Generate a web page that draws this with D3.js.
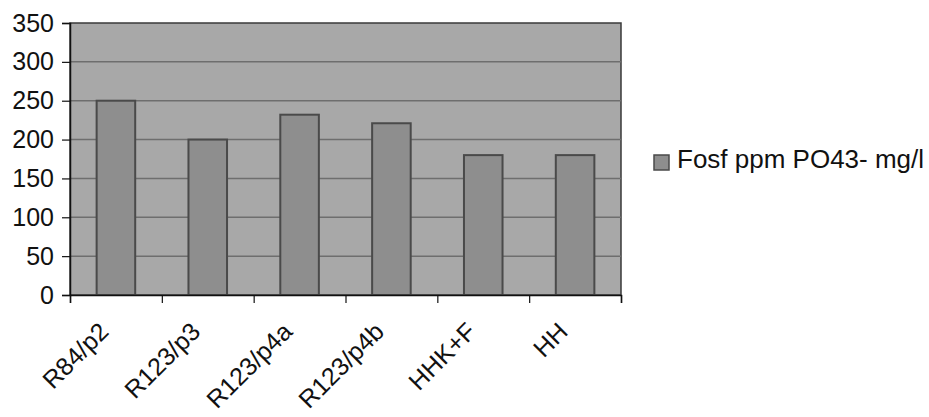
<!DOCTYPE html>
<html lang="en">
<head>
    <meta charset="UTF-8">
    <script src="https://cdnjs.cloudflare.com/ajax/libs/d3/7.8.5/d3.min.js"></script>
    <title>Fosf ppm</title>
    <style>
        body { margin: 0; background: #fff; font-family: 'Liberation Sans', Arial, sans-serif; }
        .tick-label { font-size: 25px; fill: #111; }
        .x-label { font-size: 25px; fill: #111; }
        .legend-text { font-size: 26px; fill: #111; }
    </style>
</head>
<body>
<svg id="chart"></svg>
<script>
    // data
    const categories = ['R84/p2', 'R123/p3', 'R123/p4a', 'R123/p4b', 'HHK+F', 'HH']
    const values = [250, 200, 232, 221, 180, 180]
    const yTicks = [0, 50, 100, 150, 200, 250, 300, 350]
    const seriesName = 'Fosf ppm PO43- mg/l'

    const W = 929, H = 417
    const plot = {left: 70, right: 621, top: 23, bottom: 295}

    const svg = d3.select('#chart')
        .attr('width', W)
        .attr('height', H)

    const x = d3.scaleBand()
        .domain(categories)
        .range([plot.left, plot.right])
        .paddingInner(0.58)
        .paddingOuter(0.29)

    const xBoundaries = d3.scaleLinear()
        .domain([0, categories.length])
        .range([plot.left, plot.right])

    const y = d3.scaleLinear()
        .domain([0, 350])
        .range([plot.bottom, plot.top])

    // plot background
    svg.append('rect')
        .attr('x', plot.left)
        .attr('y', plot.top)
        .attr('width', plot.right - plot.left)
        .attr('height', plot.bottom - plot.top)
        .attr('fill', '#a8a8a8')
        .attr('stroke', '#3a3a3a')
        .attr('stroke-width', 1.5)

    // gridlines
    svg.selectAll('.grid')
        .data(yTicks.filter(d => d > 0 && d < 350))
        .enter()
        .append('line')
        .attr('x1', plot.left)
        .attr('x2', plot.right)
        .attr('y1', d => y(d))
        .attr('y2', d => y(d))
        .attr('stroke', '#6e6e6e')
        .attr('stroke-width', 1.5)

    // bars
    svg.selectAll('.bar')
        .data(values)
        .enter()
        .append('rect')
        .attr('class', 'bar')
        .attr('x', (d, i) => x(categories[i]))
        .attr('y', d => y(d))
        .attr('width', x.bandwidth())
        .attr('height', d => y(0) - y(d))
        .attr('fill', '#8e8e8e')
        .attr('stroke', '#4a4a4a')
        .attr('stroke-width', 2)

    // y axis
    const yAxis = svg.append('g')
        .attr('transform', 'translate(' + plot.left + ',0)')
        .call(d3.axisLeft(y).tickValues(yTicks).tickSize(8).tickPadding(8))
    yAxis.select('.domain').attr('stroke', '#111').attr('stroke-width', 1.5)
    yAxis.selectAll('.tick line').attr('stroke', '#111').attr('stroke-width', 1.2)
    yAxis.selectAll('.tick text')
        .attr('class', 'tick-label')
        .style('font-family', "'Liberation Sans', Arial, sans-serif")

    // x axis (ticks between categories)
    const xAxis = svg.append('g')
        .attr('transform', 'translate(0,' + plot.bottom + ')')
        .call(d3.axisBottom(xBoundaries).tickValues(d3.range(categories.length + 1)).tickSize(8).tickFormat(''))
    xAxis.select('.domain').attr('stroke', '#111').attr('stroke-width', 1.5)
    xAxis.selectAll('.tick line').attr('stroke', '#111').attr('stroke-width', 1.2)

    // rotated category labels
    svg.selectAll('.xlabel')
        .data(categories)
        .enter()
        .append('text')
        .attr('class', 'x-label')
        .attr('text-anchor', 'end')
        .attr('dy', '0.35em')
        .attr('transform', d => 'translate(' + (x(d) + x.bandwidth() / 2 - 12) + ',' + 327 + ') rotate(-45)')
        .text(d => d)

    // legend
    svg.append('rect')
        .attr('x', 654)
        .attr('y', 155)
        .attr('width', 15)
        .attr('height', 15)
        .attr('fill', '#8e8e8e')
        .attr('stroke', '#4a4a4a')
        .attr('stroke-width', 1.5)

    svg.append('text')
        .attr('class', 'legend-text')
        .attr('x', 677)
        .attr('y', 168)
        .text(seriesName)
</script>
</body>
</html>
